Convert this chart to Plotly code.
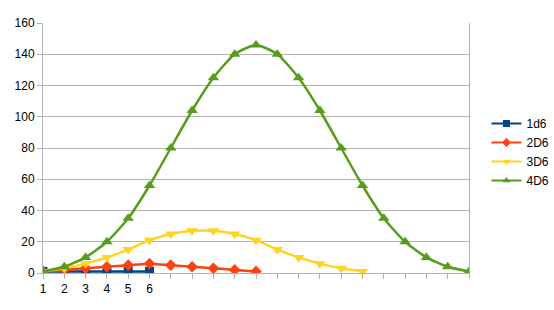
import plotly.graph_objects as go

names = ["1d6", "2D6", "3D6", "4D6"]
d1 = [1, 1, 1, 1, 1, 1]
d2 = [1, 2, 3, 4, 5, 6, 5, 4, 3, 2, 1]
d3 = [1, 3, 6, 10, 15, 21, 25, 27, 27, 25, 21, 15, 10, 6, 3, 1]
d4 = [1, 4, 10, 20, 35, 56, 80, 104, 125, 140, 146, 140, 125, 104, 80, 56, 35, 20, 10, 4, 1]
series = [d1, d2, d3, d4]
colors = ["#004586", "#ff420e", "#ffd320", "#579d1c"]
symbols = ["square", "diamond", "triangle-down", "triangle-up"]
sizes = [9, 9, 10, 10]
x_labels = ["1", "2", "3", "4", "5", "6"]

fig = go.Figure()
for name, vals, c, s, sz in zip(names, series, colors, symbols, sizes):
    fig.add_trace(go.Scatter(
        x=list(range(1, len(vals) + 1)), y=vals, name=name,
        mode="lines+markers", showlegend=False, legendgroup=name,
        line=dict(color=c, width=2.5, shape="spline", smoothing=0.6),
        marker=dict(color=c, symbol=s, size=sz),
    ))
# legend entries with smaller symbols
for name, c, s in zip(names, colors, symbols):
    fig.add_trace(go.Scatter(
        x=[None], y=[None], name=name, legendgroup=name,
        mode="lines+markers",
        line=dict(color=c, width=2),
        marker=dict(color=c, symbol=s, size=7),
    ))

n = len(d4)
fig.update_layout(
    width=554, height=310,
    margin=dict(l=43, r=85, t=23, b=37, autoexpand=False),
    paper_bgcolor="white", plot_bgcolor="white",
    font=dict(family="Liberation Sans, Arial, sans-serif", size=12, color="#000"),
    xaxis=dict(
        range=[1, n], tickmode="array",
        tickvals=list(range(1, n + 1)),
        ticktext=x_labels + [""] * (n - len(x_labels)),
        showgrid=False, zeroline=False,
        ticks="outside", ticklen=5, tickcolor="#b3b3b3",
        showline=True, linecolor="#b3b3b3", linewidth=1, mirror=False,
        tickfont=dict(size=12),
    ),
    yaxis=dict(
        range=[0, 160], dtick=20,
        showgrid=True, gridcolor="#b3b3b3", gridwidth=1,
        zeroline=False, ticks="outside", ticklen=5, tickcolor="#b3b3b3",
        showline=True, linecolor="#b3b3b3", linewidth=1, mirror=True,
        tickfont=dict(size=12),
    ),
    legend=dict(
        x=1.041, y=0.484, xanchor="left", yanchor="middle",
        font=dict(size=12), itemwidth=30, tracegroupgap=0,
        bgcolor="rgba(0,0,0,0)",
    ),
    showlegend=True,
)

fig.write_html("out.html")
